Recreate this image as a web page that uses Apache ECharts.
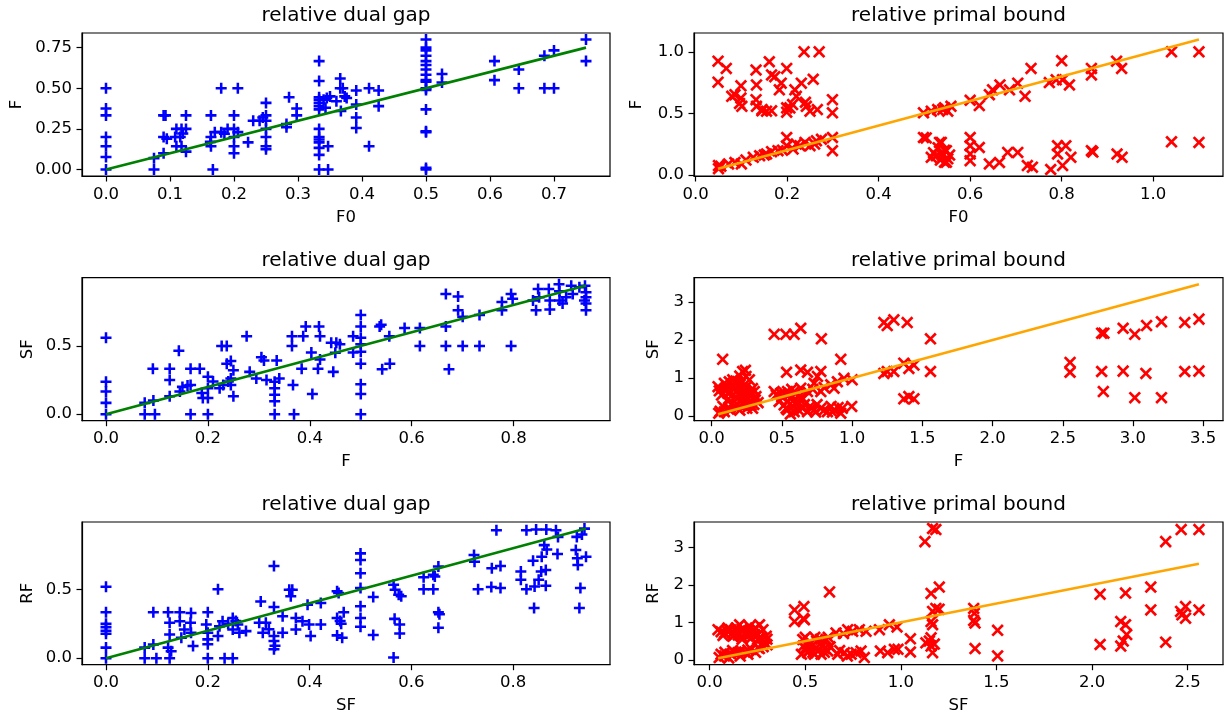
<!DOCTYPE html>
<html><head><meta charset="utf-8">
<script src="https://cdn.jsdelivr.net/npm/echarts@6/dist/echarts.min.js"></script>
<style>html,body{margin:0;padding:0;background:#fff}#c{width:1228px;height:719px}</style>
</head><body><div id="c"></div>
<script>
// ---------- titles & axis names ----------
const panelTitles = ['relative dual gap', 'relative primal bound'];
const xNames = ['F0', 'F', 'SF'];
const yNames = ['F', 'SF', 'RF'];

// ---------- data: [x, y] pairs per panel ----------
const dualF0F = [
[0,0.5],[0,0.375],[0,0.333],[0,0.2],[0,0.143],[0,0.077],[0,0],
[0.075,0.07],[0.075,0],
[0.09,0.333],[0.093,0.333],[0.09,0.2],[0.095,0.19],[0.09,0.1],
[0.11,0.25],[0.118,0.25],[0.125,0.25],[0.108,0.2],[0.116,0.2],[0.11,0.143],[0.118,0.143],[0.125,0.333],[0.125,0.11],[0.12,0.222],
[0.164,0.333],[0.164,0.2],[0.164,0.143],[0.167,0],[0.163,0.17],
[0.18,0.5],[0.206,0.5],
[0.17,0.23],[0.18,0.23],[0.19,0.25],[0.2,0.25],[0.206,0.23],[0.185,0.22],
[0.2,0.333],[0.2,0.2],[0.2,0.143],[0.2,0.1],
[0.222,0.167],
[0.23,0.3],[0.24,0.3],[0.245,0.32],[0.25,0.333],
[0.25,0.41],[0.25,0.3],[0.25,0.25],[0.25,0.2],[0.25,0.143],[0.25,0.125],
[0.282,0.28],[0.282,0.26],[0.286,0.444],[0.298,0.375],[0.298,0.333],
[0.333,0.667],[0.333,0.545],[0.333,0.444],[0.333,0.43],[0.333,0.41],[0.333,0.39],[0.333,0.37],[0.333,0.25],[0.333,0.2],[0.333,0.185],[0.333,0.167],[0.333,0.133],[0.333,0.09],[0.333,0],
[0.347,0],[0.347,0.143],[0.34,0.43],[0.345,0.44],[0.35,0.45],[0.343,0.38],
[0.366,0.56],[0.366,0.5],[0.37,0.5],[0.373,0.45],[0.376,0.44],[0.367,0.36],[0.36,0.42],
[0.391,0.486],[0.391,0.4],[0.391,0.32],[0.391,0.255],
[0.411,0.5],[0.411,0.143],
[0.426,0.486],[0.426,0.39],
[0.5,0.8],[0.5,0.75],[0.5,0.733],[0.5,0.7],[0.5,0.667],[0.5,0.643],[0.5,0.615],[0.5,0.583],[0.5,0.55],[0.5,0.54],[0.5,0.5],[0.5,0.49],[0.5,0.37],[0.5,0.235],[0.5,0.23],[0.5,0.01],[0.5,0],
[0.525,0.588],[0.525,0.535],
[0.607,0.667],[0.607,0.55],
[0.645,0.615],[0.645,0.5],
[0.685,0.7],[0.685,0.5],[0.7,0.733],[0.7,0.5],
[0.75,0.8],[0.75,0.667]
];

const primalF0F = [
[0.049,0.924],[0.049,0.753],[0.067,0.865],[0.079,0.638],[0.086,0.651],[0.099,0.723],[0.099,0.624],[0.101,0.557],[0.132,0.852],[0.133,0.731],[0.132,0.611],[0.133,0.557],[0.145,0.53],[0.155,0.517],[0.161,0.919],[0.166,0.812],[0.173,0.798],[0.183,0.691],[0.187,0.745],[0.199,0.865],[0.199,0.544],[0.206,0.544],[0.212,0.571],[0.217,0.691],[0.22,0.638],[0.231,0.745],[0.237,1.0],[0.242,0.557],[0.25,0.517],[0.257,0.777],[0.27,1.0],[0.266,0.53],[0.299,0.611],[0.299,0.504],[0.145,0.52],[0.166,0.52],[0.199,0.509],[0.096,0.58],[0.24,0.59],
[0.05,0.05],[0.05,0.075],[0.055,0.07],[0.072,0.088],[0.086,0.1],[0.1,0.088],[0.126,0.142],[0.14,0.155],[0.155,0.169],[0.166,0.188],[0.18,0.196],[0.199,0.236],[0.199,0.303],[0.213,0.209],[0.228,0.236],[0.239,0.263],[0.25,0.236],[0.264,0.276],[0.275,0.289],[0.299,0.303],[0.299,0.196],[0.11,0.12],[0.15,0.16],[0.19,0.2],[0.22,0.25],[0.26,0.25],
[0.498,0.504],[0.498,0.303],[0.515,0.517],[0.529,0.53],[0.544,0.544],[0.551,0.517],[0.558,0.557],[0.54,0.53],[0.504,0.3],[0.515,0.142],[0.526,0.155],[0.533,0.263],[0.537,0.169],[0.544,0.2],[0.544,0.102],[0.551,0.13],[0.537,0.263],[0.548,0.196],[0.54,0.155],[0.548,0.102],[0.535,0.12],[0.52,0.18],[0.555,0.16],[0.53,0.22],
[0.6,0.606],[0.62,0.563],[0.642,0.651],[0.649,0.691],[0.665,0.731],[0.686,0.691],[0.704,0.745],[0.72,0.638],[0.733,0.865],[0.773,0.75],[0.788,0.772],[0.8,0.927],[0.802,0.772],[0.817,0.731],[0.865,0.865],[0.865,0.812],[0.92,0.924],[0.931,0.865],[1.04,1.0],[1.1,1.0],
[0.6,0.303],[0.6,0.236],[0.6,0.169],[0.6,0.115],[0.62,0.222],[0.642,0.088],[0.664,0.1],[0.682,0.182],[0.704,0.182],[0.725,0.075],[0.736,0.062],[0.776,0.043],[0.791,0.236],[0.791,0.169],[0.809,0.236],[0.802,0.075],[0.82,0.142],[0.865,0.196],[0.868,0.185],[0.921,0.169],[0.932,0.142],[1.04,0.268],[1.1,0.263]
];

const dualFSF = [
[0,0.56],[0,0.238],[0,0.167],[0,0.083],[0,0],
[0.076,0.083],[0.076,0],[0.096,0],[0.093,0.1],[0.092,0.333],
[0.125,0.333],[0.125,0.25],[0.125,0.131],[0.143,0.464],[0.145,0.167],[0.15,0.2],[0.16,0.21],
[0.166,0.333],[0.166,0],[0.166,0.214],[0.184,0.333],[0.188,0.155],[0.19,0.119],
[0.2,0.274],[0.2,0.19],[0.2,0.119],[0.2,0],[0.21,0.24],[0.223,0.19],
[0.227,0.5],[0.237,0.5],[0.237,0.369],[0.245,0.39],[0.25,0.131],[0.23,0.214],[0.24,0.24],[0.245,0.262],[0.25,0.322],[0.245,0.214],
[0.276,0.571],[0.282,0.31],[0.295,0.262],[0.305,0.417],[0.31,0.393],[0.315,0.25],
[0.331,0.238],[0.331,0.19],[0.331,0.143],[0.331,0.095],[0.331,0],[0.335,0.393],[0.34,0.262],
[0.365,0.571],[0.365,0.5],[0.367,0.214],[0.369,0],[0.384,0.333],[0.387,0.571],[0.392,0.643],[0.403,0.452],[0.405,0.148],
[0.416,0.333],[0.418,0.643],[0.42,0.571],[0.42,0.4],[0.442,0.524],[0.446,0.31],[0.452,0.524],[0.45,0.45],
[0.459,0.512],[0.485,0.571],[0.485,0.452],
[0.5,0.726],[0.5,0.643],[0.5,0.56],[0.5,0.512],[0.5,0.457],[0.5,0.369],[0.5,0.219],[0.5,0.148],[0.5,0],
[0.537,0.643],[0.54,0.655],[0.542,0.329],[0.557,0.369],[0.556,0.571],
[0.586,0.631],[0.616,0.631],[0.616,0.5],
[0.667,0.881],[0.667,0.643],[0.667,0.5],[0.673,0.329],
[0.691,0.862],[0.691,0.762],[0.7,0.714],[0.7,0.5],[0.733,0.726],[0.733,0.5],
[0.777,0.821],[0.777,0.762],[0.795,0.881],[0.798,0.845],[0.795,0.5],
[0.838,0.833],[0.844,0.762],[0.848,0.917],[0.85,0.857],[0.869,0.917],[0.871,0.833],[0.871,0.767],
[0.889,0.952],[0.89,0.9],[0.89,0.833],[0.896,0.81],[0.903,0.857],[0.913,0.94],[0.916,0.881],[0.929,0.929],
[0.94,0.94],[0.942,0.893],[0.942,0.857],[0.942,0.81],[0.942,0.762],[0.939,0.833]
];

const primalFSF = [
[0.078,1.49],[0.045,0.77],[0.054,0.66],[0.09,0.86],[0.114,0.6],[0.149,0.82],[0.173,0.64],[0.185,0.9],[0.208,0.73],[0.22,1.17],[0.244,1.04],[0.268,0.95],[0.232,0.55],[0.279,0.6],[0.303,0.46],[0.279,0.38],[0.232,0.29],[0.185,0.2],[0.137,0.16],[0.09,0.11],[0.05,0.07],[0.06,0.12],[0.161,0.25],[0.208,0.38],[0.256,0.29],[0.291,0.2],[0.315,0.51],[0.125,0.9],[0.173,0.92],[0.196,0.82],[0.244,0.64],[0.303,0.64],[0.1,0.7],[0.16,0.7],[0.21,0.55],[0.26,0.45],[0.12,0.18],[0.2,0.15],[0.25,0.2],[0.3,0.3],
[0.07,0.55],[0.11,0.78],[0.13,0.62],[0.15,0.95],[0.17,0.5],[0.19,0.68],[0.21,0.88],[0.23,0.62],[0.25,0.78],[0.27,0.52],[0.29,0.72],[0.2,1.05],[0.24,1.2],[0.12,0.45],[0.31,0.42],[0.08,0.25],[0.14,0.3],[0.18,0.32],[0.22,0.45],[0.28,0.28],[0.33,0.35],
[0.445,2.15],[0.528,2.15],[0.587,2.15],[0.634,2.31],[0.781,2.03],[0.919,1.49],
[0.533,1.15],[0.634,1.21],[0.682,1.15],[0.777,1.17],[0.753,1.04],[0.729,0.86],[0.848,0.82],[0.895,0.9],[0.942,0.99],[1.0,0.95],[0.997,0.25],
[0.445,0.64],[0.492,0.6],[0.54,0.64],[0.587,0.64],[0.634,0.73],[0.682,0.64],[0.777,0.64],[0.871,0.73],
[0.48,0.38],[0.516,0.29],[0.54,0.16],[0.587,0.11],[0.611,0.38],[0.646,0.2],[0.682,0.11],[0.729,0.16],[0.777,0.2],[0.824,0.11],[0.871,0.16],[0.919,0.07],[0.93,0.2],[0.54,0.38],[0.56,0.46],[0.6,0.3],[0.7,0.25],[0.75,0.3],[0.56,0.05],[0.5,0.5],[0.62,0.5],
[0.46,0.55],[0.52,0.6],[0.55,0.55],[0.58,0.4],[0.6,0.6],[0.65,0.45],[0.53,0.2],[0.58,0.25],[0.62,0.15],[0.66,0.3],[0.71,0.2],[0.74,0.1],[0.8,0.15],[0.86,0.1],[0.9,0.22],[0.85,0.25],[0.57,0.7],[0.72,0.7],[0.8,0.75],
[1.226,2.46],[1.25,2.38],[1.297,2.53],[1.392,2.46],[1.558,2.03],
[1.226,1.12],[1.25,1.17],[1.297,1.17],[1.368,1.39],[1.404,1.25],[1.44,1.34],[1.558,1.17],
[1.368,0.45],[1.404,0.51],[1.44,0.45],
[2.552,1.41],[2.552,1.15],[2.777,2.18],[2.793,2.18],[2.777,1.17],[2.789,0.64],[2.93,2.31],[2.93,1.18],[3.013,2.15],[3.097,2.38],[3.092,1.12],[3.013,0.48],[3.203,2.48],[3.203,0.48],[3.369,2.46],[3.369,1.17],[3.47,2.55],[3.47,1.18]
];

const dualSFRF = [
[0,0.52],[0,0.334],[0,0.25],[0,0.226],[0,0.2],[0,0.178],[0,0.077],[0,0],
[0.076,0.077],[0.076,0],[0.093,0.334],[0.093,0.1],[0.099,0],
[0.122,0.334],[0.125,0.257],[0.125,0.173],[0.122,0.077],[0.125,0],[0.128,0.05],
[0.145,0.334],[0.145,0.269],[0.154,0.209],[0.148,0.149],[0.167,0.329],[0.166,0.257],[0.167,0.185],[0.171,0.089],
[0.2,0.334],[0.197,0.245],[0.2,0.185],[0.2,0.137],[0.2,0.101],[0.2,0],
[0.22,0.502],[0.223,0.233],[0.22,0.161],[0.229,0.269],[0.233,0],[0.249,0],
[0.249,0.293],[0.249,0.209],[0.259,0.245],[0.262,0.185],[0.275,0.197],[0.24,0.25],[0.255,0.27],
[0.304,0.413],[0.301,0.257],[0.308,0.185],[0.314,0.257],[0.32,0.21],
[0.33,0.671],[0.33,0.373],[0.33,0.161],[0.33,0.125],[0.33,0.065],[0.332,0.09],
[0.347,0.305],[0.347,0.185],[0.36,0.498],[0.366,0.498],[0.363,0.45],
[0.373,0.293],[0.373,0.209],[0.386,0.269],[0.396,0.389],[0.399,0.245],[0.402,0.161],
[0.422,0.401],[0.422,0.245],[0.454,0.486],[0.454,0.293],[0.454,0.166],[0.46,0.27],
[0.457,0.474],[0.467,0.334],[0.462,0.25],[0.464,0.149],
[0.5,0.762],[0.5,0.714],[0.5,0.618],[0.5,0.51],[0.5,0.377],[0.5,0.293],[0.5,0.228],
[0.525,0.445],[0.525,0.168],
[0.565,0.534],[0.568,0.498],[0.575,0.462],[0.58,0.45],[0.567,0.286],[0.577,0.245],[0.577,0.18],[0.565,0.005],
[0.624,0.589],[0.624,0.502],[0.643,0.606],[0.643,0.502],[0.646,0.594],[0.653,0.666],[0.653,0.334],[0.653,0.221],[0.655,0.32],
[0.723,0.75],[0.724,0.702],[0.731,0.502],
[0.758,0.654],[0.775,0.671],[0.757,0.517],[0.775,0.51],[0.767,0.93],
[0.815,0.63],[0.815,0.57],[0.826,0.502],[0.839,0.709],[0.842,0.522],[0.841,0.365],
[0.826,0.93],[0.845,0.935],[0.865,0.935],[0.884,0.93],
[0.855,0.63],[0.856,0.738],[0.861,0.822],[0.866,0.79],[0.864,0.642],[0.864,0.526],[0.85,0.57],
[0.888,0.882],[0.887,0.757],[0.925,0.882],[0.923,0.786],[0.926,0.726],[0.927,0.678],[0.932,0.51],[0.93,0.365],[0.94,0.942],[0.943,0.738],[0.935,0.9]
];

const primalSFRF = [
[0.044,0.805],[0.078,0.717],[0.096,0.849],[0.122,0.63],[0.139,0.761],[0.157,0.936],[0.165,0.63],[0.191,0.717],[0.209,0.892],[0.218,0.586],[0.235,0.674],[0.261,0.936],[0.279,0.805],[0.296,0.63],[0.287,0.455],[0.252,0.542],[0.18,0.805],[0.2,0.63],[0.13,0.67],[0.06,0.75],[0.11,0.8],[0.17,0.55],[0.23,0.8],
[0.07,0.65],[0.09,0.78],[0.12,0.72],[0.15,0.66],[0.17,0.82],[0.2,0.76],[0.22,0.7],[0.25,0.66],[0.27,0.58],[0.24,0.85],[0.14,0.85],[0.3,0.55],
[0.05,0.06],[0.078,0.105],[0.113,0.149],[0.148,0.192],[0.183,0.21],[0.218,0.28],[0.252,0.324],[0.2,0.149],[0.06,0.149],[0.13,0.192],[0.1,0.05],[0.16,0.1],[0.24,0.2],[0.28,0.35],
[0.08,0.2],[0.12,0.25],[0.16,0.22],[0.2,0.26],[0.26,0.3],[0.3,0.4],
[0.444,1.33],[0.444,1.02],[0.493,1.42],[0.496,1.07],[0.49,1.1],[0.627,1.81],
[0.487,0.542],[0.513,0.367],[0.53,0.45],[0.557,0.324],[0.583,0.455],[0.609,0.542],[0.618,0.236],[0.513,0.192],[0.548,0.149],[0.583,0.149],[0.48,0.149],[0.49,0.367],[0.52,0.25],[0.56,0.5],[0.6,0.3],
[0.5,0.3],[0.52,0.42],[0.54,0.2],[0.57,0.25],[0.59,0.38],[0.6,0.2],[0.55,0.6],[0.5,0.6],[0.63,0.35],[0.58,0.55],[0.62,0.6],
[0.661,0.717],[0.722,0.805],[0.748,0.761],[0.783,0.805],[0.818,0.761],[0.7,0.7],
[0.67,0.149],[0.705,0.192],[0.74,0.149],[0.766,0.192],[0.792,0.236],[0.809,0.061],[0.72,0.1],[0.68,0.25],
[0.888,0.805],[0.893,0.236],[0.931,0.192],[0.94,0.936],[0.966,0.28],[0.98,0.875],[0.985,0.28],
[1.05,0.56],[1.05,0.21],
[1.126,3.15],[1.166,3.5],[1.183,3.47],[1.158,1.77],[1.201,1.94],[1.166,1.29],[1.183,1.37],[1.2,1.35],[1.158,1.02],[1.166,0.936],[1.131,0.455],[1.149,0.5],[1.158,0.367],[1.175,0.42],[1.166,0.192],[1.158,0.586],
[1.381,1.37],[1.384,1.24],[1.381,1.05],[1.388,0.98],[1.388,0.3],[1.506,0.787],[1.506,0.105],[2.042,1.75],[2.042,0.41],[2.15,1.02],[2.175,0.936],[2.175,1.78],[2.181,0.674],[2.163,0.5],[2.15,0.367],[2.307,1.94],[2.307,1.33],[2.385,3.15],[2.385,0.472],[2.466,3.47],[2.559,3.47],[2.463,1.29],[2.489,1.42],[2.489,1.11],[2.47,1.2],[2.559,1.33]
];

// ---------- tick labels ----------
const ticksX1 = [0.0,0.1,0.2,0.3,0.4,0.5,0.6,0.7];
const ticksY1 = [0.0,0.25,0.5,0.75];
const ticksX2 = [0.0,0.2,0.4,0.6,0.8,1.0];
const ticksY2 = [0.0,0.5,1.0];
const ticksX3 = [0.0,0.2,0.4,0.6,0.8];
const ticksY3 = [0.0,0.5];
const ticksX4 = [0.0,0.5,1.0,1.5,2.0,2.5,3.0,3.5];
const ticksY4 = [0,1,2,3];
const ticksX5 = [0.0,0.2,0.4,0.6,0.8];
const ticksY5 = [0.0,0.5];
const ticksX6 = [0.0,0.5,1.0,1.5,2.0,2.5];
const ticksY6 = [0,1,2,3];

// ---------- layout / style ----------
const colLeft = [82, 694], colWidth = [528, 529];
const rowTop = [33, 277.7, 522], rowHeight = [143, 143, 142.7];
const yNameGap = [[57, 49], [46, 32], [46, 32]];
const PLUS = 'path://M-1.15,-5L1.15,-5L1.15,-1.15L5,-1.15L5,1.15L1.15,1.15L1.15,5L-1.15,5L-1.15,1.15L-5,1.15L-5,-1.15L-1.15,-1.15Z';
const XMARK = 'path://M-0.9,-5L0.9,-5L0.9,-0.9L5,-0.9L5,0.9L0.9,0.9L0.9,5L-0.9,5L-0.9,0.9L-5,0.9L-5,-0.9L-0.9,-0.9Z';
const FONT = 'DejaVu Sans';

const panels = [
  {data: dualF0F,   tx: ticksX1, ty: ticksY1, dx: 1, dy: 2},
  {data: primalF0F, tx: ticksX2, ty: ticksY2, dx: 1, dy: 1},
  {data: dualFSF,   tx: ticksX3, ty: ticksY3, dx: 1, dy: 1},
  {data: primalFSF, tx: ticksX4, ty: ticksY4, dx: 1, dy: 0},
  {data: dualSFRF,  tx: ticksX5, ty: ticksY5, dx: 1, dy: 1},
  {data: primalSFRF,tx: ticksX6, ty: ticksY6, dx: 1, dy: 0}
];

const grids = [], xAxes = [], yAxes = [], series = [], graphics = [];
panels.forEach((p, i) => {
  const row = Math.floor(i / 2), col = i % 2;
  const xs = p.data.map(d => d[0]), ys = p.data.map(d => d[1]);
  const xmin = Math.min(...xs), xmax = Math.max(...xs);
  const ylo = Math.min(xmin, ...ys), yhi = Math.max(xmax, ...ys);
  const xpad = 0.05 * (xmax - xmin), ypad = 0.05 * (yhi - ylo);
  grids.push({left: colLeft[col], top: rowTop[row], width: colWidth[col], height: rowHeight[row],
    show: true, borderColor: '#000', borderWidth: 1.2, backgroundColor: 'transparent', containLabel: false});
  const common = {
    type: 'value', gridIndex: i, splitLine: {show: false},
    axisLine: {show: true, onZero: false, lineStyle: {color: '#000', width: 1.2}},
    nameLocation: 'middle',
    nameTextStyle: {fontFamily: FONT, fontSize: 16.5, color: '#000'}
  };
  xAxes.push(Object.assign({}, common, {
    min: xmin - xpad, max: xmax + xpad, name: xNames[row], nameGap: 33,
    axisTick: {show: true, inside: false, length: 5.5, lineStyle: {color: '#000', width: 1.2}, customValues: p.tx},
    axisLabel: {fontFamily: FONT, fontSize: 16.5, color: '#000', margin: 10, customValues: p.tx,
      formatter: v => Number(v).toFixed(p.dx)}
  }));
  yAxes.push(Object.assign({}, common, {
    min: ylo - ypad, max: yhi + ypad, name: yNames[row], nameGap: yNameGap[row][col],
    axisTick: {show: true, inside: false, length: 5.5, lineStyle: {color: '#000', width: 1.2}, customValues: p.ty},
    axisLabel: {fontFamily: FONT, fontSize: 16.5, color: '#000', margin: 10, customValues: p.ty,
      formatter: v => Number(v).toFixed(p.dy)}
  }));
  const isDual = col === 0;
  series.push({
    type: 'scatter', xAxisIndex: i, yAxisIndex: i, data: p.data,
    symbol: isDual ? PLUS : XMARK, symbolSize: isDual ? 11 : 15, symbolRotate: isDual ? 0 : 45,
    itemStyle: {color: isDual ? '#0000ff' : '#ff0000', opacity: 1},
    emphasis: {disabled: true}, silent: true, z: 2
  });
  series.push({
    type: 'line', xAxisIndex: i, yAxisIndex: i, data: [[xmin, xmin], [xmax, xmax]],
    showSymbol: false, symbol: 'none',
    lineStyle: {color: isDual ? '#008000' : '#ffa500', width: 2.6},
    silent: true, z: 3
  });
  graphics.push({type: 'text', x: colLeft[col] + colWidth[col] / 2, y: rowTop[row] - 17,
    style: {text: panelTitles[col], fontFamily: FONT, fontSize: 20, fill: '#000', textAlign: 'center', textVerticalAlign: 'middle'}});
});

const chart = echarts.init(document.getElementById('c'), null, {renderer: 'canvas'});
chart.setOption({
  animation: false,
  backgroundColor: '#fff',
  grid: grids, xAxis: xAxes, yAxis: yAxes, series: series,
  graphic: graphics
});
</script>
</body></html>
